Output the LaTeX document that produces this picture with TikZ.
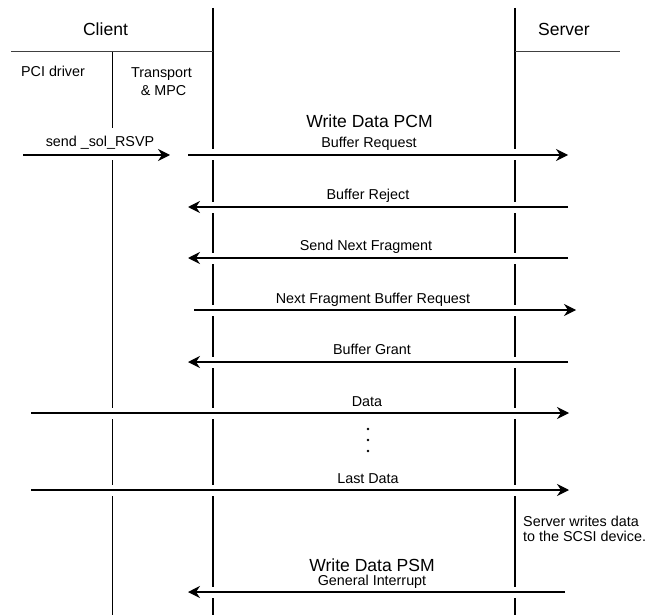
\documentclass[tikz,border=0pt]{standalone}
\usepackage{fontspec}
\setmainfont{Liberation Sans}
\usetikzlibrary{arrows.meta}
\begin{document}
\begin{tikzpicture}[x=1bp,y=-1bp,
  big/.style={font=\fontsize{17.6}{20}\selectfont, inner sep=0pt, anchor=base},
  small/.style={font=\fontsize{14.4}{18}\selectfont, inner sep=0pt, anchor=base},
  msg/.style={line width=1.2bp, -{Stealth[length=12bp,width=12bp,inset=4bp]},
              preaction={draw=white,line width=11bp,arrows=-}},
  lifeline/.style={line width=2bp},
  thinlife/.style={line width=0.9bp},
  header/.style={line width=1bp, black!75},
  dot/.style={circle, fill=black, inner sep=0pt, minimum size=2.6bp}]
\useasboundingbox (0,0) rectangle (649,615);

% lifelines
\coordinate (tT) at (112,52);  \coordinate (tB) at (112,615);
\coordinate (cT) at (213,8);   \coordinate (cB) at (213,615);
\coordinate (sT) at (515,8);   \coordinate (sB) at (515,615);
\coordinate (hL) at (11,52);   \coordinate (hC) at (213,52);
\coordinate (hS) at (515,52);  \coordinate (hR) at (620,52);
\draw[thinlife] (tT) -- (tB);
\draw[lifeline] (cT) -- (cB);
\draw[lifeline] (sT) -- (sB);
\draw[header] (hL) -- (hC);
\draw[header] (hS) -- (hR);

% headings
\node[big] (client) at (105.5,36) {Client};
\node[big] (server) at (564,36) {Server};
\node[small] (pci) at (53,77) {PCI driver};
\node[small] (transp) at (161.5,78) {Transport};
\node[small] (mpc) at (163.5,96) {\& MPC};

% white gap in the thin line behind the send label
\coordinate (g1) at (106,128); \coordinate (g2) at (118,150);
\fill[white] (g1) rectangle (g2);

% message endpoints
\coordinate (m0a) at (23,155);  \coordinate (m0b) at (170,155);
\coordinate (m1a) at (188,155); \coordinate (m1b) at (568,155);
\coordinate (m2a) at (568,207); \coordinate (m2b) at (188,207);
\coordinate (m3a) at (568,258); \coordinate (m3b) at (188,258);
\coordinate (m4a) at (194,310); \coordinate (m4b) at (576,310);
\coordinate (m5a) at (568,362); \coordinate (m5b) at (188,362);
\coordinate (m6a) at (31,413);  \coordinate (m6b) at (569,413);
\coordinate (m7a) at (31,490);  \coordinate (m7b) at (569,490);
\coordinate (m8a) at (565,592); \coordinate (m8b) at (188,592);

\draw[msg] (m0a) -- (m0b);
\draw[msg] (m1a) -- (m1b);
\draw[msg] (m2a) -- (m2b);
\draw[msg] (m3a) -- (m3b);
\draw[msg] (m4a) -- (m4b);
\draw[msg] (m5a) -- (m5b);
\draw[msg] (m6a) -- (m6b);
\draw[msg] (m7a) -- (m7b);
\draw[msg] (m8a) -- (m8b);

% labels
\node[small] (sendl) at (100,147) {send \_sol\_RSVP};
\node[big] (pcm) at (369.5,128) {Write Data PCM};
\node[small] (l1) at (369,148) {Buffer Request};
\node[small] (l2) at (368,199) {Buffer Reject};
\node[small] (l3) at (366,250) {Send Next Fragment};
\node[small] (l4) at (373,303) {Next Fragment Buffer Request};
\node[small] (l5) at (372,354) {Buffer Grant};
\node[small] (l6) at (367,406) {Data};
\node[dot] (d1) at (368,429) {};
\node[dot] (d2) at (368,440) {};
\node[dot] (d3) at (368,451) {};
\node[small] (l7) at (368,483) {Last Data};
\node[small, anchor=base west] (note1) at (523,526) {Server writes data};
\node[small, anchor=base west] (note2) at (523,541) {to the SCSI device.};
\node[big] (psm) at (372,571) {Write Data PSM};
\node[small] (l8) at (372,585) {General Interrupt};
\end{tikzpicture}
\end{document}
